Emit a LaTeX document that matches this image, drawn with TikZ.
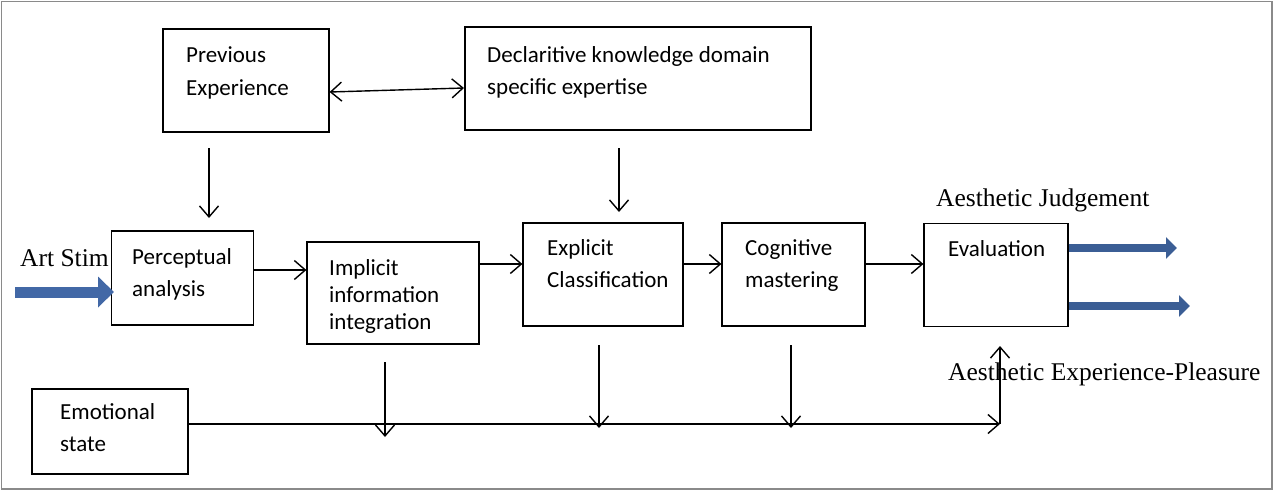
\documentclass[tikz,border=0pt]{standalone}
\usepackage{fontspec}
\setmainfont{Carlito}
\newfontfamily\tnr{Liberation Serif}
\usetikzlibrary{arrows.meta}
\definecolor{bluearr}{HTML}{3B5E95}
\definecolor{bluearrL}{HTML}{4268A6}
\definecolor{frame}{HTML}{8A8A8A}
\begin{document}
\begin{tikzpicture}[x=1pt,y=-1pt,
  box/.style={draw, line width=1.2pt, inner sep=0pt},
  txt/.style={font=\fontsize{23}{32}\selectfont, align=left, inner sep=0pt, anchor=base west},
  lbl/.style={font=\tnr\fontsize{25.5}{28}\selectfont, inner sep=0pt, anchor=base west},
  tip/.style={Straight Barb[length=11pt,width=19pt]},
  conn/.style={line width=1.4pt, -{Straight Barb[length=11pt,width=19pt]}},
  bigarr/.style={bluearr, line width=8pt, -{Triangle[length=11pt,width=21pt]}}]
\useasboundingbox (0,0) rectangle (1276,493);
\draw[frame, line width=1.5pt] (1.5,1.5) rectangle (1272,489);

% boxes
\node[box, minimum width=166pt, minimum height=103pt] (pe) at (246,80.5) {};
\node[box, line width=2pt, minimum width=346pt, minimum height=103pt] (dk) at (638,78.5) {};
\node[box, minimum width=142pt, minimum height=94pt] (pa) at (182.5,278) {};
\node[box, minimum width=172pt, minimum height=102pt] (ii) at (393,293) {};
\node[box, minimum width=160pt, minimum height=103pt] (ec) at (603,274.5) {};
\node[box, minimum width=143pt, minimum height=103pt] (cm) at (793.5,274.5) {};
\node[box, minimum width=144pt, minimum height=103pt] (ev) at (996,275) {};
\node[box, minimum width=156pt, minimum height=85pt] (es) at (110,431.5) {};

% box texts (anchor = baseline of last line)
\node[txt, font=\fontsize{23}{33}\selectfont] (pet) at (186,95) {Previous\\Experience};
\node[txt] (dkt) at (487,94) {Declaritive knowledge domain\\specific expertise};
\node[txt] (pat) at (132,296) {Perceptual\\analysis};
\node[txt, font=\fontsize{23}{27}\selectfont] (iit) at (329,329) {Implicit\\information\\integration};
\node[txt] (ect) at (547,287) {Explicit\\Classification};
\node[txt] (cmt) at (745,287) {Cognitive\\mastering};
\node[txt] (evt) at (948,256) {Evaluation};
\node[txt] (est) at (60,451) {Emotional\\state};

% free labels
\node[lbl] (art) at (20,266) {Art Stim};
\node[lbl] (aj) at (936,206) {Aesthetic Judgement};
\node[lbl] (aep) at (948,380) {Aesthetic Experience-Pleasure};

% coordinates
\coordinate (y92) at (0,92);
\coordinate (y88) at (0,88);
\coordinate (y270) at (0,270);
\coordinate (y264) at (0,264);
\coordinate (peA) at (209,148);
\coordinate (peB) at (209,218);
\coordinate (dkA) at (619,148);
\coordinate (dkB) at (619,212);
\coordinate (artA) at (15,292);
\coordinate (artB) at (114,292);
\coordinate (evY1) at (0,248);
\coordinate (evY2) at (0,306);
\coordinate (oj) at (1177,248);
\coordinate (oe) at (1190,306);
\coordinate (emEnd) at (1000,424);
\coordinate (upEnd) at (1000,346);
\coordinate (y424) at (0,424);
\coordinate (d1A) at (385,362);
\coordinate (d1B) at (385,437);
\coordinate (d2A) at (599,345);
\coordinate (d2B) at (599,428);
\coordinate (d3A) at (791,345);
\coordinate (d3B) at (791,428);

% connectors
\draw[line width=1.4pt, {Straight Barb[length=11pt,width=19pt]}-{Straight Barb[length=11pt,width=19pt]}] (pe.east |- y92) -- (dk.west |- y88);
\draw[conn] (peA) -- (peB);
\draw[conn] (dkA) -- (dkB);
\draw[conn] (pa.east |- y270) -- (ii.west |- y270);
\draw[conn] (ii.east |- y264) -- (ec.west |- y264);
\draw[conn] (ec.east |- y264) -- (cm.west |- y264);
\draw[conn] (cm.east |- y264) -- (ev.west |- y264);
\draw[conn] (es.east |- y424) -- (emEnd);
\draw[conn] (emEnd) -- (upEnd);
\draw[conn] (d1A) -- (d1B);
\draw[conn] (d2A) -- (d2B);
\draw[conn] (d3A) -- (d3B);

% blue arrows
\draw[bluearrL, line width=11pt, -{Triangle[length=16pt,width=30pt]}] (artA) -- (artB);
\draw[bigarr] (ev.east |- evY1) -- (oj);
\draw[bigarr] (ev.east |- evY2) -- (oe);
\end{tikzpicture}
\end{document}
